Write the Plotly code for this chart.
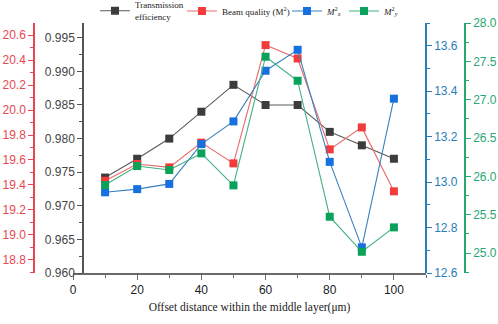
import plotly.graph_objects as go

offset = [10, 20, 30, 40, 50, 60, 70, 80, 90, 100]
transmission = [0.9742, 0.9770, 0.9800, 0.9840, 0.9880, 0.9850, 0.9850, 0.9810, 0.9790, 0.9770]
beam_quality = [19.434, 19.568, 19.541, 19.739, 19.573, 20.520, 20.413, 19.685, 19.861, 19.349]
m2x = [12.955, 12.969, 12.992, 13.167, 13.267, 13.490, 13.582, 13.089, 12.713, 13.367]
m2y = [25.887, 26.135, 26.083, 26.300, 25.883, 27.561, 27.248, 25.474, 25.017, 25.335]

names = ["Transmission<br>efficiency", "Beam quality (M<sup>2</sup>)",
         "<i>M</i><sup>2</sup><sub><i>x</i></sub>", "<i>M</i><sup>2</sup><sub><i>y</i></sub>"]

RED = "#e8474f"
BLUE = "#2a7db8"
GREEN = "#27a870"
DARK = "#555555"

W, H = 498, 324
TOP = 23          # pixel of plot top
BOT = 273         # pixel of plot bottom
X0, X1 = 73, 426  # pixel extent of x axis

def px(p):
    return p / W

fig = go.Figure()
fig.add_trace(go.Scatter(x=offset, y=transmission, name=names[0], mode="lines+markers",
                         line=dict(color="#5a5a5a", width=1.1),
                         marker=dict(symbol="square", size=8, color="#3c3c3c"),
                         yaxis="y", legend="legend"))
fig.add_trace(go.Scatter(x=offset, y=beam_quality, name=names[1], mode="lines+markers",
                         line=dict(color="#e66a6a", width=1.1),
                         marker=dict(symbol="square", size=8, color="#f23c3c"),
                         yaxis="y2", legend="legend2"))
fig.add_trace(go.Scatter(x=offset, y=m2x, name=names[2], mode="lines+markers",
                         line=dict(color="#3a80bd", width=1.1),
                         marker=dict(symbol="square", size=8, color="#1670e0"),
                         yaxis="y3", legend="legend3"))
fig.add_trace(go.Scatter(x=offset, y=m2y, name=names[3], mode="lines+markers",
                         line=dict(color="#40b084", width=1.1),
                         marker=dict(symbol="square", size=8, color="#0aa25a"),
                         yaxis="y4", legend="legend4"))

sans = "Liberation Sans, Arial, sans-serif"
serif = "Liberation Serif, Times New Roman, serif"
ydom = [0, (BOT - TOP) / BOT]

def yax(color, rng, dtick, mdtick, fmt, pos, side, overlay=True, tickcolor=None):
    d = dict(range=rng, dtick=dtick, tickformat=fmt, anchor="free", position=pos, side=side,
             domain=ydom, automargin=False,
             showline=True, linecolor=color, linewidth=1.5, ticks="outside", ticklen=5,
             tickcolor=color, tickwidth=1.2, showgrid=False, zeroline=False,
             tickfont=dict(family=sans, size=12, color=tickcolor or color),
             minor=dict(ticks="outside", dtick=mdtick, ticklen=3, tickcolor=color, tickwidth=1))
    if overlay:
        d["overlaying"] = "y"
    return d

def leg(xpix):
    return dict(orientation="h", x=px(xpix - 5), xanchor="left",
                y=1 - 11 / BOT, yanchor="middle",
                font=dict(family=serif, size=9, color="#222"), bgcolor="rgba(0,0,0,0)")

fig.update_layout(
    width=W, height=H,
    margin=dict(l=0, r=0, t=0, b=H - BOT, autoexpand=False),
    plot_bgcolor="white", paper_bgcolor="white",
    xaxis=dict(domain=[px(X0), px(X1)], range=[0, 110], dtick=20, showline=True, automargin=False,
               linecolor="#6a6a6a", linewidth=1.5, ticks="outside", ticklen=5, tickcolor="#6a6a6a",
               showgrid=False, zeroline=False,
               tickfont=dict(family=sans, size=12, color="#222"),
               minor=dict(ticks="outside", dtick=10, ticklen=3, tickcolor="#6a6a6a"),
               title=dict(text="Offset distance within the middle layer(μm)",
                          font=dict(family=serif, size=11.5, color="#222"), standoff=7)),
    yaxis=yax(DARK, [0.960, 0.9972], 0.005, 0.0025, ".3f", px(83), "left", overlay=False, tickcolor="#444"),
    yaxis2=yax(RED, [18.695, 20.697], 0.2, 0.1, ".1f", px(34), "left"),
    yaxis3=yax(BLUE, [12.6, 13.70], 0.2, 0.1, ".1f", px(X1), "right"),
    yaxis4=yax(GREEN, [24.74, 28.001], 0.5, 0.25, ".1f", px(465), "right"),
    legend=leg(100),
    legend2=leg(187),
    legend3=leg(292),
    legend4=leg(349),
    showlegend=True,
)

fig.write_html("out.html",
               config={"displayModeBar": False},
               post_script="document.body.style.margin='0px';document.body.style.overflow='hidden';")
